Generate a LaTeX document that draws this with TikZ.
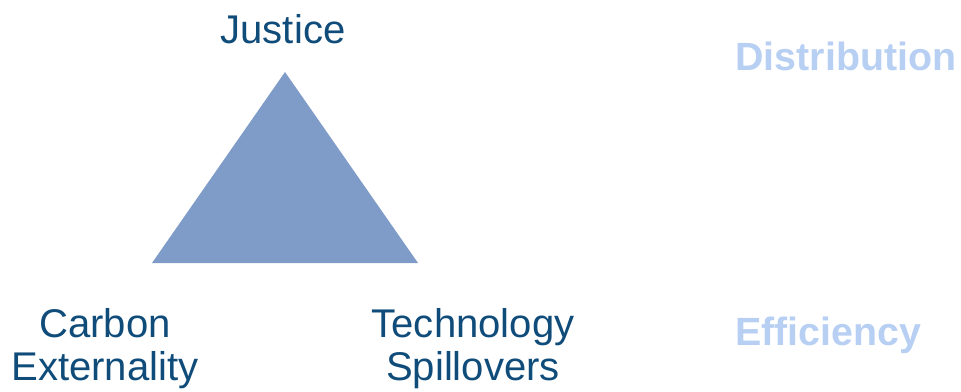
\documentclass[tikz,border=0pt]{standalone}
\usepackage{fontspec}
\setmainfont{Liberation Sans}

\definecolor{labelblue}{RGB}{16,76,122}
\definecolor{trifill}{RGB}{127,156,200}
\definecolor{paleblue}{RGB}{183,207,242}

\tikzset{
  corner/.style={text=labelblue,font=\fontsize{28.5}{30.5}\selectfont,align=center,anchor=base,inner sep=0pt},
  goal/.style={text=paleblue,font=\fontsize{28}{34}\selectfont\bfseries,anchor=base,inner sep=0pt}
}

\begin{document}
\begin{tikzpicture}[x=0.025cm,y=-0.025cm]
\useasboundingbox (0,0) rectangle (961,391);

% Triangle
\coordinate (top) at (285,72);
\coordinate (bl) at (152,263);
\coordinate (br) at (418,263);
\fill[trifill] (top) -- (bl) -- (br) -- cycle;

% Corner labels
\node[corner] (justice) at (283,43) {Justice};
\node[corner] (carbon) at (105,380) {Carbon\\Externality};
\node[corner] (tech) at (473,380) {Technology\\Spillovers};

% Right side
\node[goal] (dist) at (846,70) {Distribution};
\node[goal] (eff) at (828,345) {Efficiency};
\end{tikzpicture}
\end{document}
